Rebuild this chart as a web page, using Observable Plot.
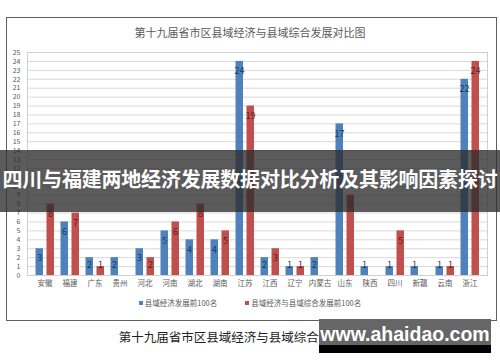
<!DOCTYPE html>
<html>
<head>
<meta charset="utf-8">
<script src="https://cdn.jsdelivr.net/npm/d3@7"></script>
<script src="https://cdn.jsdelivr.net/npm/@observablehq/plot@0.6"></script>
<style>
  html, body { margin: 0; padding: 0; background: #fff; }
  body { width: 500px; height: 362px; overflow: hidden; font-family: "Noto Sans CJK SC", "Noto Sans", sans-serif; }
  #wrap { position: relative; width: 500px; height: 362px; }
  #chart { position: absolute; left: 0; top: 0; }
  .abs { position: absolute; white-space: nowrap; }
  #frame { left: 6px; top: 17px; width: 489px; height: 302px; border: 1.5px solid #606060; box-sizing: content-box; }
  #title { left: 0; width: 500px; top: 25px; text-align: center; font-size: 11px; color: #595959; line-height: 14px; }
  #legend { left: 0; width: 500px; top: 297px; text-align: center; font-size: 7.5px; color: #595959; line-height: 12px; }
  #legend span.sw { display: inline-block; width: 4px; height: 4px; margin-right: 2px; vertical-align: middle; position: relative; top: -1px; }
  #legend span.item { margin: 0 14px; }
  #caption { left: 0; width: 500px; top: 328px; text-align: center; font-size: 12.5px; color: #222; line-height: 18px; }
  #banner { left: 0; top: 150px; width: 500px; height: 62px; background: rgba(45,45,45,0.78); }
  #bannerText { left: -4px; width: 508px; top: 165px; text-align: center; font-size: 20px; font-weight: bold; color: #fff; line-height: 28px; letter-spacing: -0.2px; }
  #wm { left: 319px; top: 319px; width: 172px; height: 26px; background: #666; }
  #wm2 { left: 319px; top: 345px; width: 172px; height: 8px; background: #000; }
  #wmText { left: 319px; width: 172px; top: 322px; text-align: center; font-family: "Liberation Sans", Arial, sans-serif; font-weight: bold; font-size: 19.5px; color: #fff; line-height: 24px; }
</style>
</head>
<body>
<div id="wrap">
  <div id="frame" class="abs"></div>
  <div id="chart"></div>
  <div id="title" class="abs">第十九届省市区县域经济与县域综合发展对比图</div>
  <div id="legend" class="abs"></div>
  <div id="banner" class="abs"></div>
  <div id="bannerText" class="abs">四川与福建两地经济发展数据对比分析及其影响因素探讨</div>
  <div id="caption" class="abs">第十九届省市区县域经济与县域综合发展对比图</div>
  <div id="wm" class="abs"></div>
  <div id="wm2" class="abs"></div>
  <div id="wmText" class="abs">www.ahaidao.com</div>
</div>
<script>
const provinces = ["安徽","福建","广东","贵州","河北","河南","湖北","湖南","江苏","江西","辽宁","内蒙古","山东","陕西","四川","新疆","云南","浙江"];
const seriesNames = ["县域经济发展前100名", "县域经济与县域综合发展前100名"];
const economyTop100 = [3,6,2,2,3,5,4,4,24,2,1,2,17,1,1,1,1,22];
const comprehensiveTop100 = [8,7,1,0,2,6,8,5,19,3,1,0,9,0,5,0,1,24];
const yTicks = d3.range(0, 26);
const colors = ["#4f81bd", "#c0504d"];
const labelColors = ["#23395a", "#5e1e1c"];

const blue = provinces.map((p, i) => ({prov: p, value: economyTop100[i]}));
const red = provinces.map((p, i) => ({prov: p, value: comprehensiveTop100[i]}));

const labelY = d => Math.max(d.value - 1.1, 1.2);

const chart = Plot.plot({
  width: 500,
  height: 362,
  marginTop: 52,
  marginBottom: 87,
  marginLeft: 27,
  marginRight: 13,
  style: {background: "transparent", fontFamily: "'Noto Sans CJK SC', sans-serif"},
  x: {domain: provinces, padding: 0},
  y: {domain: [0, 25]},
  marks: [
    Plot.gridY(yTicks, {stroke: "#d9d9d9", strokeOpacity: 1}),
    Plot.frame({stroke: "#d0d0d0"}),
    Plot.axisY(yTicks, {tickSize: 0, tickPadding: 7, fontSize: 7, fill: "#595959", label: null}),
    Plot.axisX({tickSize: 0, tickPadding: 5, fontSize: 7.5, fill: "#595959", label: null}),
    Plot.barY(blue.filter(d => d.value > 0), {x: "prov", y: "value", fill: colors[0], insetLeft: 3.5, insetRight: 14}),
    Plot.barY(red.filter(d => d.value > 0), {x: "prov", y: "value", fill: colors[1], insetLeft: 14.5, insetRight: 3}),
    Plot.text(blue.filter(d => d.value > 0), {x: "prov", y: labelY, text: d => String(d.value), dx: -5.5, fill: labelColors[0], fontSize: 9}),
    Plot.text(red.filter(d => d.value > 0), {x: "prov", y: labelY, text: d => String(d.value), dx: 5.5, fill: labelColors[1], fontSize: 9})
  ]
});
document.getElementById("chart").appendChild(chart);

const legend = document.getElementById("legend");
seriesNames.forEach((name, i) => {
  const item = document.createElement("span");
  item.className = "item";
  const sw = document.createElement("span");
  sw.className = "sw";
  sw.style.background = colors[i];
  item.appendChild(sw);
  item.appendChild(document.createTextNode(name));
  legend.appendChild(item);
});
</script>
</body>
</html>
